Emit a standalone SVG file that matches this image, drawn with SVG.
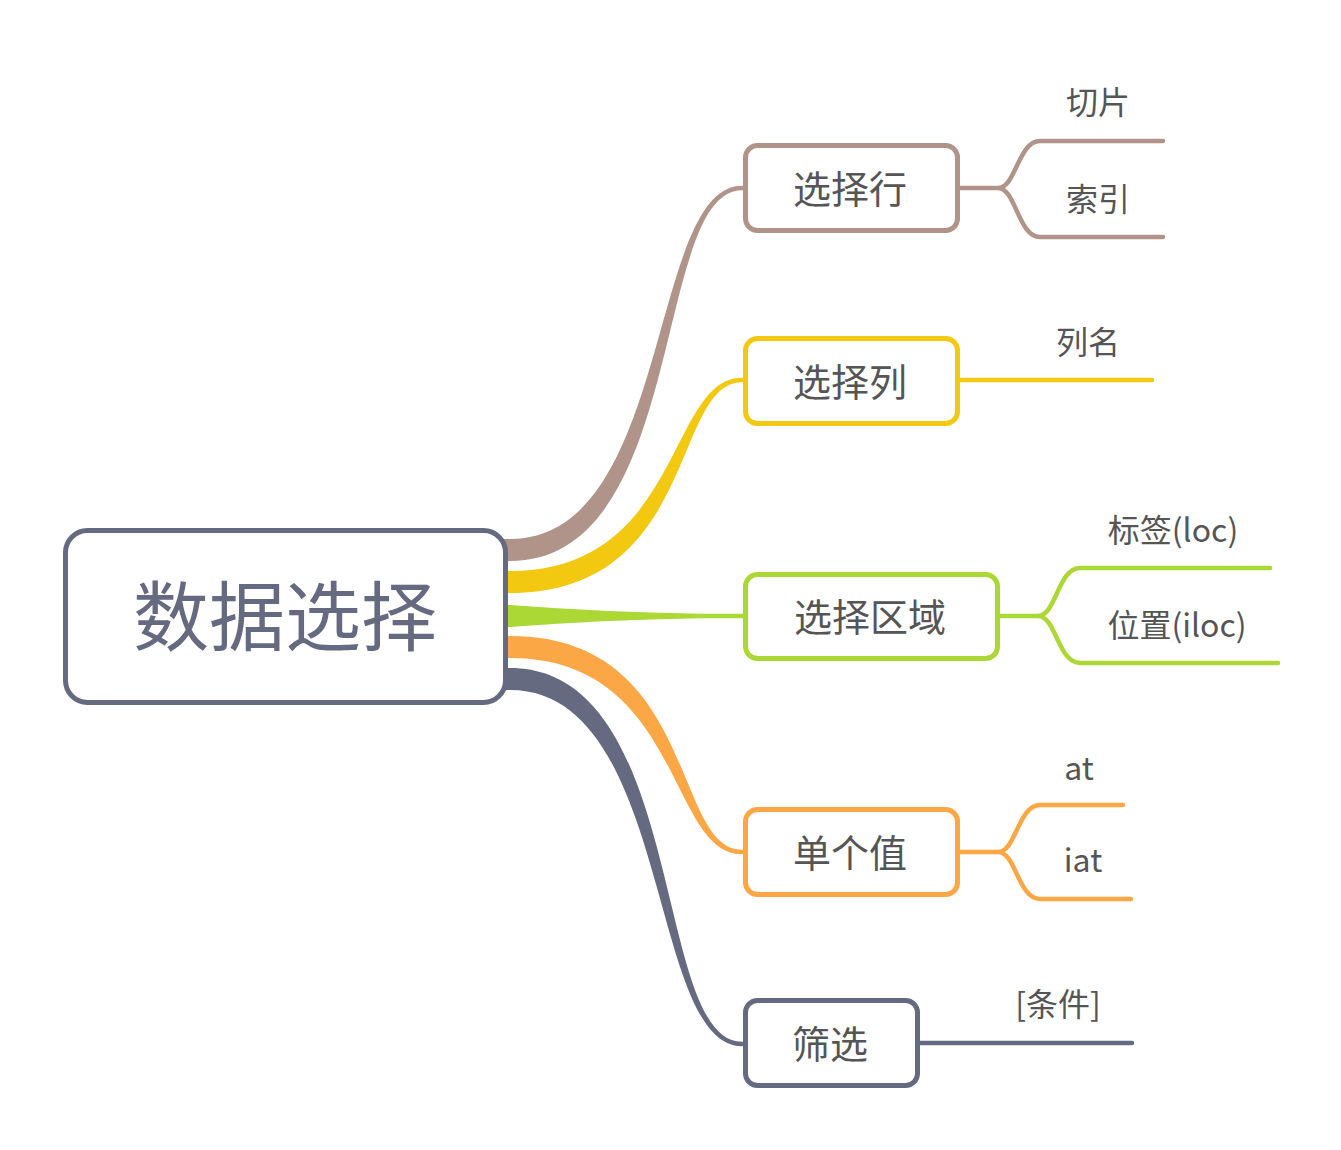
<svg xmlns="http://www.w3.org/2000/svg" width="1341" height="1150" viewBox="0 0 1341 1150">
<style>
.node{fill:#fff;stroke-width:5}
.lbl{font-family:"Noto Sans CJK SC","Noto Sans",sans-serif;fill:#555;text-anchor:middle}
.n{font-size:38px}
.leaf{font-size:32px}
.ln{fill:none;stroke-width:4.5;stroke-linecap:round}
</style>
<rect width="1341" height="1150" fill="#fff"/>
<g id="connectors">
  <path fill="#b0948a" d="M490,539 L510,539 C672,539 648,185.8 742,185.8 L746,185.8 L746,190.2 L742,190.2 C652,190.2 688,561 510,561 L490,561 Z"/>
  <path fill="#f2c811" d="M490,571 L510,571 C682,571 668,377.8 742,377.8 L746,377.8 L746,382.2 L742,382.2 C672,382.2 698,593 510,593 L490,593 Z"/>
  <path fill="#acd836" d="M490,605 L510,605 Q600,612 700,613.8 L746,613.8 L746,618.2 L700,618.2 Q600,620 510,627 L490,627 Z"/>
  <path fill="#fba745" d="M490,636 L510,636 C698,636 672,849.8 742,849.8 L746,849.8 L746,854.2 L742,854.2 C668,854.2 682,658 510,658 L490,658 Z"/>
  <path fill="#666a80" d="M490,668 L510,668 C688,668 652,1041.8 742,1041.8 L746,1041.8 L746,1046.2 L742,1046.2 C648,1046.2 672,690 510,690 L490,690 Z"/>
  <path class="ln" stroke="#b0948a" d="M958,188 L998,188 C1016,188 1018,141 1040,141 L1163,141 M998,188 C1016,188 1018,237 1040,237 L1163,237"/>
  <path class="ln" stroke="#f2c811" d="M958,380 L1152,380"/>
  <path class="ln" stroke="#acd836" d="M998,616 L1038,616 C1056,616 1058,568 1080,568 L1270,568 M1038,616 C1056,616 1058,663 1080,663 L1278,663"/>
  <path class="ln" stroke="#fba745" d="M958,852 L998,852 C1016,852 1018,805 1040,805 L1123,805 M998,852 C1016,852 1018,899 1040,899 L1131,899"/>
  <path class="ln" stroke="#666a80" d="M918,1043 L1132,1043"/>
</g>
<g id="root">
  <rect class="node" stroke="#666a80" x="65.5" y="530.5" width="440" height="172" rx="22"/>
  <text class="lbl" x="285" y="645" font-size="76" style="fill:#666a80">数据选择</text>
</g>
<g id="n-row">
  <rect class="node" stroke="#b0948a" x="745.5" y="145.5" width="212" height="85" rx="12"/>
  <text class="lbl n" x="850" y="203">选择行</text>
</g>
<g id="n-col">
  <rect class="node" stroke="#f2c811" x="745.5" y="338.5" width="212" height="85" rx="12"/>
  <text class="lbl n" x="850" y="396">选择列</text>
</g>
<g id="n-area">
  <rect class="node" stroke="#acd836" x="745.5" y="574.5" width="252" height="84" rx="12"/>
  <text class="lbl n" x="870" y="631">选择区域</text>
</g>
<g id="n-single">
  <rect class="node" stroke="#fba745" x="745.5" y="809.5" width="212" height="85" rx="12"/>
  <text class="lbl n" x="850" y="867">单个值</text>
</g>
<g id="n-filter">
  <rect class="node" stroke="#666a80" x="745.5" y="1000.5" width="172" height="85" rx="12"/>
  <text class="lbl n" x="830" y="1058">筛选</text>
</g>
<g id="leaf-slice"><text class="lbl leaf" x="1098" y="114">切片</text></g>
<g id="leaf-index"><text class="lbl leaf" x="1098" y="211">索引</text></g>
<g id="leaf-colname"><text class="lbl leaf" x="1088" y="354">列名</text></g>
<g id="leaf-loc"><text class="lbl leaf" x="1173" y="542">标签(loc)</text></g>
<g id="leaf-iloc"><text class="lbl leaf" x="1177" y="637">位置(iloc)</text></g>
<g id="leaf-at"><text class="lbl leaf" x="1079" y="780">at</text></g>
<g id="leaf-iat"><text class="lbl leaf" x="1083" y="872">iat</text></g>
<g id="leaf-cond"><text class="lbl leaf" x="1058" y="1016">[条件]</text></g>
</svg>
